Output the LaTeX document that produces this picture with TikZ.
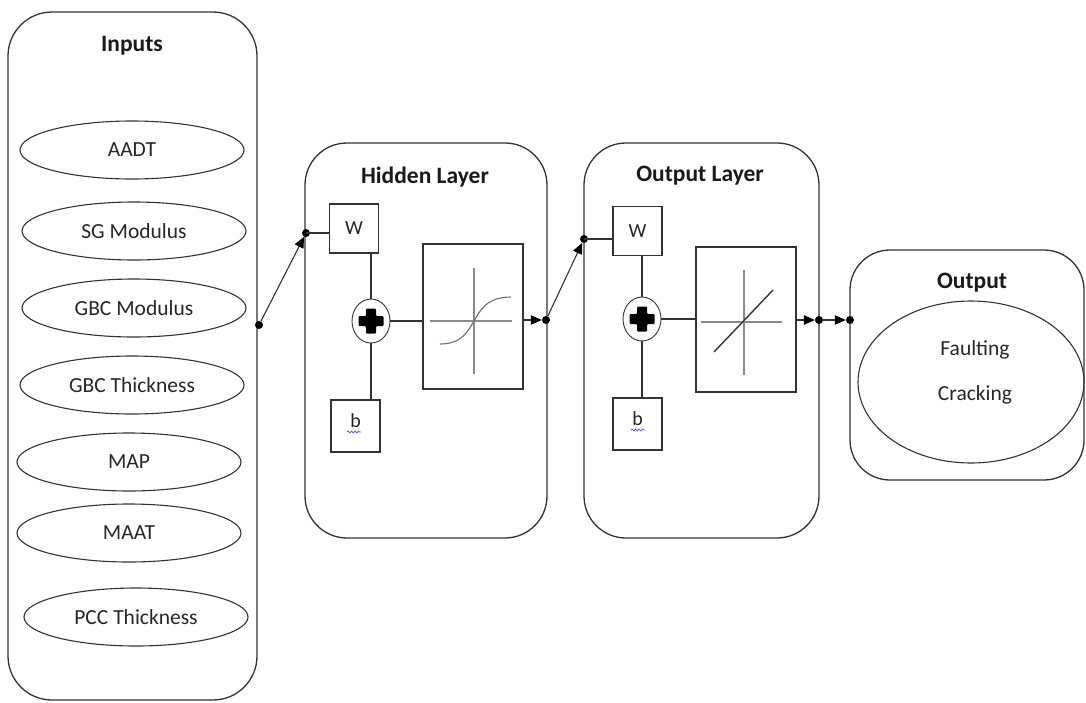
\documentclass[tikz,border=0pt]{standalone}
\usepackage{fontspec}
\setmainfont{Carlito}
\usetikzlibrary{shapes.geometric,arrows.meta,decorations.pathmorphing}
\definecolor{ink}{HTML}{333333}
\definecolor{axisgray}{HTML}{8A8A8A}
\definecolor{squig}{HTML}{3B5BFF}

\begin{document}
\begin{tikzpicture}[x=1pt,y=-1pt,
  panel/.style={draw=ink,line width=1.3pt,rounded corners=44pt,inner sep=0pt},
  field/.style={draw=ink,line width=1.1pt,ellipse,minimum width=224pt,minimum height=58pt,
    inner sep=0pt,font=\fontsize{21.5}{24}\selectfont,text=black!85},
  title/.style={font=\fontsize{23.5}{26}\selectfont\bfseries,text=black!90},
  param/.style={draw=ink,line width=1.1pt,minimum width=49pt,minimum height=49pt,inner sep=0pt,
    font=\fontsize{20}{22}\selectfont,text=black!85},
  actbox/.style={draw=ink,line width=1.1pt,minimum width=100pt,minimum height=145pt,inner sep=0pt},
  summer/.style={draw=ink,line width=0.9pt,ellipse,minimum width=38pt,minimum height=44pt,inner sep=0pt},
  joint/.style={circle,fill=black,minimum size=8pt,inner sep=0pt},
  wire/.style={draw=ink,line width=1.1pt},
  feed/.style={wire,-{Triangle[length=11pt,width=9.5pt,color=black]}},
  axisline/.style={draw=axisgray,line width=2pt},
  spell/.style={draw=squig,line width=0.7pt,decorate,decoration={snake,amplitude=1pt,segment length=3.5pt}},
  plussign/.pic={\fill[black,rounded corners=1pt] (-5,-12.5) -- (5,-12.5) -- (5,-5) -- (12.5,-5) -- (12.5,5)
     -- (5,5) -- (5,12.5) -- (-5,12.5) -- (-5,5) -- (-12.5,5) -- (-12.5,-5) -- (-5,-5) -- cycle;},
]
\useasboundingbox (0,0) rectangle (1086,702);

% ---------- input column ----------
\node[panel,minimum width=249pt,minimum height=688pt] (inputs) at (132.5,356) {};
\node[title] (inputsT) at (132,46) {Inputs};
\node[field] (aadt) at (132,150) {AADT};
\node[field] (sg)   at (134,231) {SG Modulus};
\node[field] (gbcm) at (134,308) {GBC Modulus};
\node[field] (gbct) at (132,385) {GBC Thickness};
\node[field] (map)  at (129,462) {MAP};
\node[field] (maat) at (129,533) {MAAT};
\node[field] (pcc)  at (136,617) {PCC Thickness};

% ---------- hidden layer ----------
\node[panel,rounded corners=42pt,minimum width=242pt,minimum height=395pt] (hidden) at (426,340.5) {};
\node[title] (hiddenT) at (425,177) {Hidden Layer};
\node[param] (w1) at (354,228.5) {W};
\node[summer] (s1) at (371,321) {};
\pic at (s1.center) {plussign};
\node[param,minimum height=52pt,text depth=10pt] (b1) at (355.5,426) {b};
\draw[spell] (347,432) -- (361,432);
\node[actbox] (sig) at (473,316.5) {};
\draw[axisline] (474,268) -- (474,374);
\draw[axisline] (430,321) -- (512,321);
\draw[axisgray!80!black,line width=1.1pt] (440,344) .. controls (462,344) and (468,331) .. (474,321)
  .. controls (480,311) and (486,297) .. (511,297);

% ---------- output layer ----------
\node[panel,rounded corners=42pt,minimum width=235pt,minimum height=395pt] (outlayer) at (701.5,340.5) {};
\node[title] (outlayerT) at (700,176) {Output Layer};
\node[param] (w2) at (637.5,231) {W};
\node[summer] (s2) at (642,319) {};
\pic at (s2.center) {plussign};
\node[param,minimum height=52pt,text depth=10pt] (b2) at (637.5,424) {b};
\draw[spell] (631,430) -- (645,430);
\node[actbox] (lin) at (746,319.5) {};
\draw[axisline] (744,270) -- (744,375);
\draw[axisline] (701,322) -- (782,322);
\draw[ink,line width=1.4pt] (714,352) -- (773,290);

% ---------- output ----------
\node[panel,rounded corners=40pt,minimum width=234pt,minimum height=230pt] (outbox) at (967,365) {};
\node[title] (outboxT) at (972,283) {Output};
\node[draw=ink,line width=1.1pt,ellipse,minimum width=226pt,minimum height=162pt,inner sep=0pt] (result) at (971,382) {};
\node[font=\fontsize{21.5}{45}\selectfont,align=center,text=black!85] (resultT) at (975,372) {Faulting\\Cracking};

% ---------- junctions and connectors ----------
\node[joint] (j0) at (259,325) {};
\node[joint] (j1) at (306,233) {};
\node[joint] (j2) at (546,320) {};
\node[joint] (j3) at (584,239) {};
\node[joint] (j4) at (819,320) {};
\node[joint] (j5) at (850,320) {};

\draw[feed] (j0) -- (j1);
\draw[wire] (j1.center) -- (j1 -| w1.west);
\draw[wire] (w1.south -| s1) -- (s1.north);
\draw[wire] (s1.south) -- (s1.south |- b1.north);
\draw[wire] (s1.east) -- (s1.east -| sig.west);
\draw[feed] (sig.east |- j2) -- (j2);
\draw[feed] (j2) -- (j3);
\draw[wire] (j3.center) -- (j3 -| w2.west);
\draw[wire] (w2.south -| s2) -- (s2.north);
\draw[wire] (s2.south) -- (s2.south |- b2.north);
\draw[wire] (s2.east) -- (s2.east -| lin.west);
\draw[feed] (lin.east |- j4) -- (j4);
\draw[feed] (j4) -- (j5);
\end{tikzpicture}
\end{document}
